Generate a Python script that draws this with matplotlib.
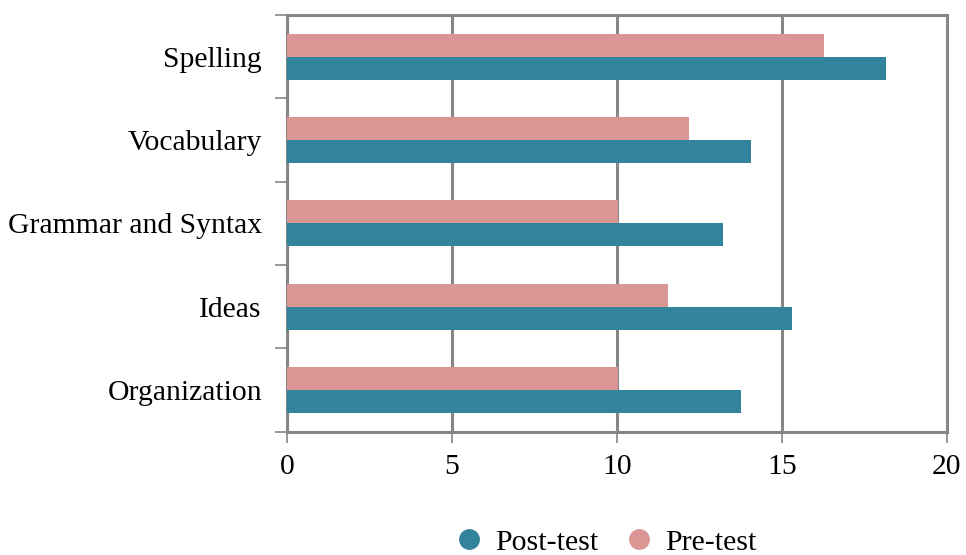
import numpy as np
import matplotlib
matplotlib.use("Agg")
import matplotlib.pyplot as plt
from matplotlib.lines import Line2D

categories = ["Organization", "Ideas", "Grammar and Syntax", "Vocabulary", "Spelling"]
post_test = [13.76, 15.3, 13.21, 14.06, 18.15]
pre_test = [10.03, 11.55, 10.03, 12.18, 16.27]

POST_COLOR = "#31849B"
PRE_COLOR = "#D99694"
GRID = "#868686"

plt.rcParams["font.family"] = ["Liberation Serif", "DejaVu Serif"]

fig = plt.figure(figsize=(9.66, 5.55), dpi=100)
ax = fig.add_axes([0.297, 0.222, 0.683, 0.751])

y = np.arange(len(categories))
h = 0.276
ax.barh(y - h / 2, post_test, height=h, color=POST_COLOR, zorder=3)
ax.barh(y + h / 2, pre_test, height=h, color=PRE_COLOR, zorder=3)

ax.set_xlim(0, 20)
ax.set_ylim(-0.5, len(categories) - 0.5)
ax.set_xticks([0, 5, 10, 15, 20])
ax.grid(axis="x", color=GRID, linewidth=2.2, zorder=0)

# category labels in the middle, tick marks at the boundaries
ax.set_yticks(y)
ax.set_yticklabels(categories, fontsize=21.3)
ax.tick_params(axis="y", length=0, pad=18)
ax.set_yticks(np.arange(-0.5, len(categories), 1.0), minor=True)
ax.tick_params(axis="y", which="minor", length=9, width=1.2, color=GRID)
ax.tick_params(axis="x", length=8, width=1.2, color=GRID, labelsize=21.3, pad=8)

for s in ax.spines.values():
    s.set_color(GRID)
    s.set_linewidth(2.2)

handles = [
    Line2D([], [], marker="o", linestyle="", markersize=14, color=POST_COLOR, label="Post-test"),
    Line2D([], [], marker="o", linestyle="", markersize=14, color=PRE_COLOR, label="Pre-test"),
]
fig.legend(handles=handles, loc="lower center", bbox_to_anchor=(0.625, -0.05), ncol=2,
           frameon=False, fontsize=21.5, handlelength=1.2, handletextpad=0.27,
           columnspacing=0.75)

fig.savefig("out.png", dpi=100)
